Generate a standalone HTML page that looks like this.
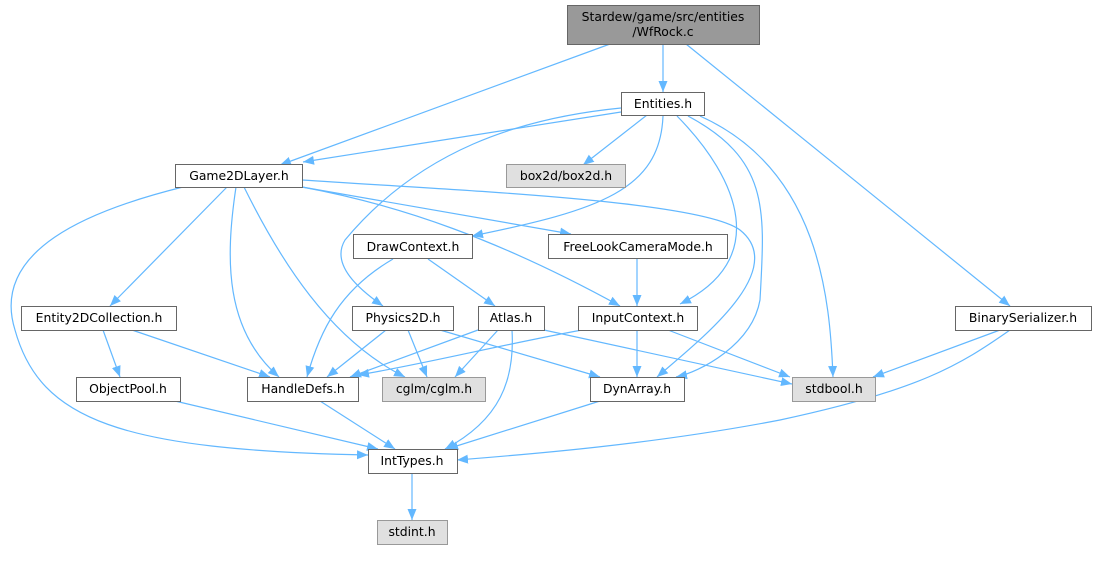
<!DOCTYPE html>
<html><head><meta charset="utf-8"><style>
html,body{margin:0;padding:0;background:#fff;}
svg{display:block;}
text{font-family:"DejaVu Sans","Liberation Sans",sans-serif;font-size:12.4px;fill:#000;}
</style></head><body>
<svg width="1096" height="564" viewBox="0 0 1096 564" xmlns="http://www.w3.org/2000/svg">
<defs>
<marker id="a" markerUnits="userSpaceOnUse" markerWidth="12" markerHeight="10" refX="11" refY="5" orient="auto">
<path d="M0,0.5 L11,5 L0,9.5 Z" fill="#63b8ff"/>
</marker>
</defs>
<g fill="none" stroke="#63b8ff" stroke-width="1.2" marker-end="url(#a)">
<path d="M610,44 L280,165"/>
<path d="M663,44 L663,92"/>
<path d="M686,44 L1010,306"/>
<path d="M621,112 L303,162"/>
<path d="M647,115 L583,165"/>
<path d="M621,108 C520,118 420,150 345,240 C330,265 360,290 383,306"/>
<path d="M663,116 C660,190 600,210 472,236"/>
<path d="M677,116 C740,180 770,260 680,304"/>
<path d="M688,116 C770,160 765,210 760,300 C752,345 700,372 676,377"/>
<path d="M302,180 C450,190 700,200 740,230 C790,270 700,340 657,377"/>
<path d="M700,116 C820,170 830,300 833,377"/>
<path d="M183,187 C90,210 -10,250 15,330 C40,420 120,450 368,455"/>
<path d="M227,187 L110,306"/>
<path d="M236,187 C225,260 225,330 279,377"/>
<path d="M244,187 C280,260 330,340 405,377"/>
<path d="M302,187 L571,234"/>
<path d="M302,187 C400,205 500,240 620,306"/>
<path d="M393,259 C340,290 320,330 307,377"/>
<path d="M428,259 L495,306"/>
<path d="M637,259 L637,306"/>
<path d="M103,330 L120,377"/>
<path d="M132,330 L270,377"/>
<path d="M386,330 L327,377"/>
<path d="M408,330 L427,377"/>
<path d="M440,330 L600,377"/>
<path d="M478,330 L350,377"/>
<path d="M498,330 L455,377"/>
<path d="M512,330 C515,380 500,420 445,449"/>
<path d="M544,330 L792,384"/>
<path d="M582,330 C500,345 420,365 358,375"/>
<path d="M637,330 L637,377"/>
<path d="M668,330 L790,377"/>
<path d="M1000,330 L873,377"/>
<path d="M1010,330 C960,365 920,390 780,420 C650,445 520,455 457,460"/>
<path d="M175,401 L378,449"/>
<path d="M320,401 L395,449"/>
<path d="M600,401 L447,449"/>
<path d="M412,473 L412,520"/>
</g>
<g stroke="#666" stroke-width="1">
<rect x="567.5" y="5.5" width="192" height="39" fill="#999"/>
<rect x="621.5" y="92.5" width="83" height="23" fill="#fff"/>
<rect x="175.5" y="164.5" width="127" height="23" fill="#fff"/>
<rect x="506.5" y="164.5" width="119" height="23" fill="#e0e0e0" stroke="#999"/>
<rect x="353.5" y="234.5" width="119" height="24" fill="#fff"/>
<rect x="548.5" y="234.5" width="179" height="24" fill="#fff"/>
<rect x="21.5" y="306.5" width="155" height="24" fill="#fff"/>
<rect x="352.5" y="306.5" width="101" height="24" fill="#fff"/>
<rect x="478.5" y="306.5" width="66" height="24" fill="#fff"/>
<rect x="578.5" y="306.5" width="119" height="24" fill="#fff"/>
<rect x="955.5" y="306.5" width="136" height="24" fill="#fff"/>
<rect x="76.5" y="377.5" width="104" height="24" fill="#fff"/>
<rect x="247.5" y="377.5" width="111" height="24" fill="#fff"/>
<rect x="382.5" y="377.5" width="103" height="24" fill="#e0e0e0" stroke="#999"/>
<rect x="590.5" y="377.5" width="94" height="24" fill="#fff"/>
<rect x="792.5" y="377.5" width="83" height="24" fill="#e0e0e0" stroke="#999"/>
<rect x="368.5" y="449.5" width="89" height="24" fill="#fff"/>
<rect x="377.5" y="520.5" width="70" height="24" fill="#e0e0e0" stroke="#999"/>
</g>
<g text-anchor="middle">
<text x="663" y="21">Stardew/game/src/entities</text>
<text x="663" y="36">/WfRock.c</text>
<text x="663" y="108">Entities.h</text>
<text x="239" y="180">Game2DLayer.h</text>
<text x="566" y="180">box2d/box2d.h</text>
<text x="413" y="251">DrawContext.h</text>
<text x="638" y="251">FreeLookCameraMode.h</text>
<text x="99" y="322">Entity2DCollection.h</text>
<text x="403" y="322">Physics2D.h</text>
<text x="511" y="322">Atlas.h</text>
<text x="638" y="322">InputContext.h</text>
<text x="1023" y="322">BinarySerializer.h</text>
<text x="128" y="393">ObjectPool.h</text>
<text x="303" y="393">HandleDefs.h</text>
<text x="434" y="393">cglm/cglm.h</text>
<text x="637" y="393">DynArray.h</text>
<text x="834" y="393">stdbool.h</text>
<text x="412" y="465">IntTypes.h</text>
<text x="412" y="536">stdint.h</text>
</g>
</svg>
</body></html>
